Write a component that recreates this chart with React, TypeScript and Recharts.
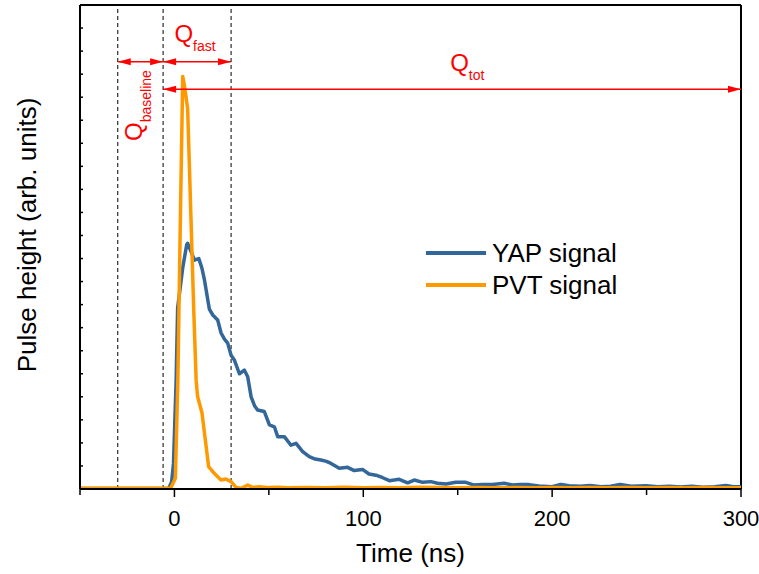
import { LineChart, Line, XAxis, YAxis, ReferenceLine, ReferenceDot, Legend, Label } from 'recharts';

// time axis in ns, pulse height in arbitrary units (one unit = one minor y tick)
const yapTime = [
  -50, -10, -3, -1.5, -0.5, 0.9, 1.7, 4.4, 6.5, 7, 8.8, 10.6, 12.9, 14.5, 15.9, 18.5, 20.3, 22.9, 24.7,
  26.5, 28.2, 30, 31.7, 34.4, 37, 38.8, 40.6, 42.5, 44, 47.6, 50.3, 52.9, 54.7, 58.2, 61.7, 64.4, 67.9,
  71.4, 74.5, 77.6, 80.5, 82.9, 87.3, 91.7, 95.2, 99.6, 103, 106.7, 110, 113.8, 119, 123.5, 127, 131.4,
  135.8, 139.3, 143.8, 149, 154.3, 158.7, 163, 168.4, 174.6, 179, 183, 187.8, 193, 200, 204.6, 209, 215,
  220, 226, 231, 236, 242, 249.6, 256, 262, 268, 274, 280, 286, 292, 296, 300,
];
const yapSignal = [
  0.02, 0.02, 0.03, 0.3, 1.1, 4.7, 7.85, 9.6, 10.6, 10.66, 10.3, 9.93, 10.0, 9.6, 9.07, 7.8, 7.55, 7.33, 6.77,
  6.5, 6.33, 5.8, 5.6, 5.0, 5.16, 4.87, 4.0, 3.6, 3.43, 3.36, 2.78, 2.7, 2.27, 2.27, 1.9, 1.98, 1.62,
  1.4, 1.3, 1.26, 1.2, 1.11, 0.9, 0.94, 0.8, 0.85, 0.65, 0.6, 0.5, 0.36, 0.42, 0.27, 0.39, 0.29,
  0.32, 0.25, 0.22, 0.29, 0.29, 0.17, 0.2, 0.2, 0.25, 0.17, 0.2, 0.19, 0.13, 0.1, 0.2, 0.14, 0.12,
  0.15, 0.1, 0.12, 0.2, 0.12, 0.14, 0.1, 0.12, 0.09, 0.12, 0.08, 0.1, 0.15, 0.1, 0.1,
];

const pvtTime = [
  -50, -2, 0.5, 1.8, 2.4, 3.3, 4.4, 5.3, 7, 10.2, 11.5, 12.3, 14.6, 16.8, 18.1, 20.3, 22.9, 24.7, 27.3,
  30, 32.6, 35.3, 38.8, 41.4, 45, 50, 55, 60, 70, 80, 90, 100, 110, 120, 130, 140, 150, 160, 170, 180,
  190, 200, 210, 220, 230, 240, 250, 260, 270, 280, 290, 300,
];
const pvtSignal = [
  0.03, 0.03, 0.47, 4.7, 7.8, 12.5, 17.9, 17.5, 16.5, 7.85, 4.7, 4.0, 3.3, 1.84, 0.97, 0.75, 0.53, 0.39, 0.43,
  0.32, 0.07, 0.03, 0.17, 0.07, 0.1, 0.06, 0.08, 0.05, 0.06, 0.05, 0.08, 0.05, 0.07, 0.05, 0.08, 0.06, 0.05, 0.07, 0.05, 0.06,
  0.05, 0.07, 0.05, 0.06, 0.05, 0.06, 0.05, 0.06, 0.05, 0.06, 0.05, 0.05,
];

const seriesNames = ['YAP signal', 'PVT signal'];

const xTicks = [-50, 0, 50, 100, 150, 200, 250, 300];
const xTickLabels = ['', '0', '', '100', '', '200', '', '300'];
const yTicks = [1, 2, 3, 4, 5, 6, 7, 8, 9, 10, 11, 12, 13, 14, 15, 16, 17, 18, 19, 20];

// integration windows (ns) and arrow heights
const gateEdges = [-30, -6, 30];
const tailEnd = 300;
const gateArrowY = 18.54;
const totArrowY = 17.34;

const yapData = yapTime.map((t, i) => ({ t, v: yapSignal[i] }));
const pvtData = pvtTime.map((t, i) => ({ t, v: pvtSignal[i] }));

const FONT = '"Liberation Sans", Arial, sans-serif';
const RED = '#ff0000';
const BLUE = '#336699';
const ORANGE = '#ff9900';

const XTick = ({ x, y, payload }: any) => {
  const major = payload.value % 100 === 0;
  const label = xTickLabels[xTicks.indexOf(payload.value)];
  return (
    <g>
      <line x1={x} x2={x} y1={y} y2={y + (major ? 8 : 6)} stroke='#000' strokeWidth={1.5} />
      <text x={x} y={y + 37} textAnchor='middle' fontSize={22} fontFamily={FONT} fill='#000'>
        {label}
      </text>
    </g>
  );
};

const YTick = ({ x, y }: any) => <line x1={x} x2={x + 3} y1={y} y2={y} stroke='#000' strokeWidth={1.5} />;

const arrow = (left: boolean, right: boolean) => (p: any) => {
  const xa = Math.min(p.x1, p.x2);
  const xb = Math.max(p.x1, p.x2);
  const y = p.y1;
  return (
    <g>
      <line x1={xa} x2={xb} y1={y} y2={y} stroke={RED} strokeWidth={1.5} />
      {left && <polygon points={`${xa},${y} ${xa + 13},${y - 3.5} ${xa + 13},${y + 3.5}`} fill={RED} />}
      {right && <polygon points={`${xb},${y} ${xb - 13},${y - 3.5} ${xb - 13},${y + 3.5}`} fill={RED} />}
    </g>
  );
};

const qLabel = (sub: string, rotate = false) => (p: any) => (
  <text
    x={p.cx}
    y={p.cy}
    fill={RED}
    fontSize={24}
    fontFamily={FONT}
    transform={rotate ? `rotate(-90 ${p.cx} ${p.cy})` : undefined}
  >
    Q
    <tspan fontSize={14} dy={9}>
      {sub}
    </tspan>
  </text>
);

const LegendBox = ({ payload }: any) => {
  const items = seriesNames.map(n => (payload || []).find((e: any) => e.value === n)).filter(Boolean);
  return (
    <div style={{ fontFamily: FONT, fontSize: 26, lineHeight: '32px', color: '#000' }}>
      {items.map((e: any) => (
        <div key={e.value} style={{ display: 'flex', alignItems: 'center' }}>
          <span style={{ display: 'inline-block', width: 60, height: 3.5, background: e.color, marginRight: 6 }} />
          <span>{e.value}</span>
        </div>
      ))}
    </div>
  );
};

export default function App() {
  return (
    <div style={{ position: 'absolute', left: 0, top: 0, background: '#fff' }}>
      <LineChart width={759} height={574} margin={{ top: 5, right: 18, left: 0, bottom: 0 }}>
        <XAxis
          type='number'
          dataKey='t'
          domain={[-50, 300]}
          ticks={xTicks}
          interval={0}
          allowDataOverflow
          height={85}
          tickSize={0}
          tickMargin={0}
          tickLine={false}
          tick={<XTick />}
          axisLine={{ stroke: '#000', strokeWidth: 2 }}
        >
          <Label
            content={({ viewBox }: any) => (
              <text
                x={viewBox.x + viewBox.width / 2}
                y={viewBox.y + 73}
                textAnchor='middle'
                fontSize={26}
                fontFamily={FONT}
                fill='#000'
              >
                Time (ns)
              </text>
            )}
          />
        </XAxis>
        <YAxis
          type='number'
          dataKey='v'
          domain={[0, 21]}
          ticks={yTicks}
          interval={0}
          allowDataOverflow
          width={80}
          tickSize={0}
          tickMargin={0}
          tickLine={false}
          tick={<YTick />}
          axisLine={{ stroke: '#000', strokeWidth: 2 }}
        >
          <Label
            content={({ viewBox }: any) => {
              const cx = 36;
              const cy = viewBox.y + viewBox.height / 2 - 12;
              return (
                <text
                  x={cx}
                  y={cy}
                  textAnchor='middle'
                  fontSize={26}
                  fontFamily={FONT}
                  fill='#000'
                  transform={`rotate(-90 ${cx} ${cy})`}
                >
                  Pulse height (arb. units)
                </text>
              );
            }}
          />
        </YAxis>

        <ReferenceLine y={21} stroke='#000' strokeWidth={2} />
        <ReferenceLine x={300} stroke='#000' strokeWidth={2} />
        {gateEdges.map(g => (
          <ReferenceLine key={g} x={g} stroke='#000' strokeWidth={1} strokeDasharray='4 3' />
        ))}

        <Line
          data={yapData}
          dataKey='v'
          name='YAP signal'
          type='linear'
          stroke={BLUE}
          strokeWidth={3.5}
          strokeLinejoin='round'
          dot={false}
          isAnimationActive={false}
        />
        <Line
          data={pvtData}
          dataKey='v'
          name='PVT signal'
          type='linear'
          stroke={ORANGE}
          strokeWidth={3.5}
          strokeLinejoin='round'
          dot={false}
          isAnimationActive={false}
        />

        <ReferenceLine
          segment={[{ x: gateEdges[0], y: gateArrowY }, { x: gateEdges[1], y: gateArrowY }]}
          shape={arrow(true, true)}
        />
        <ReferenceLine
          segment={[{ x: gateEdges[1], y: gateArrowY }, { x: gateEdges[2], y: gateArrowY }]}
          shape={arrow(true, true)}
        />
        <ReferenceLine
          segment={[{ x: gateEdges[1], y: totArrowY }, { x: tailEnd, y: totArrowY }]}
          shape={arrow(true, true)}
        />
        <ReferenceDot x={0} y={19.39} r={0} shape={qLabel('fast')} />
        <ReferenceDot x={146} y={18.13} r={0} shape={qLabel('tot')} />
        <ReferenceDot x={-16.9} y={15.1} r={0} shape={qLabel('baseline', true)} />

        <Legend
          layout='vertical'
          align='center'
          verticalAlign='middle'
          content={<LegendBox />}
          wrapperStyle={{ left: 426, top: 237, width: 'auto' }}
        />
      </LineChart>
    </div>
  );
}
